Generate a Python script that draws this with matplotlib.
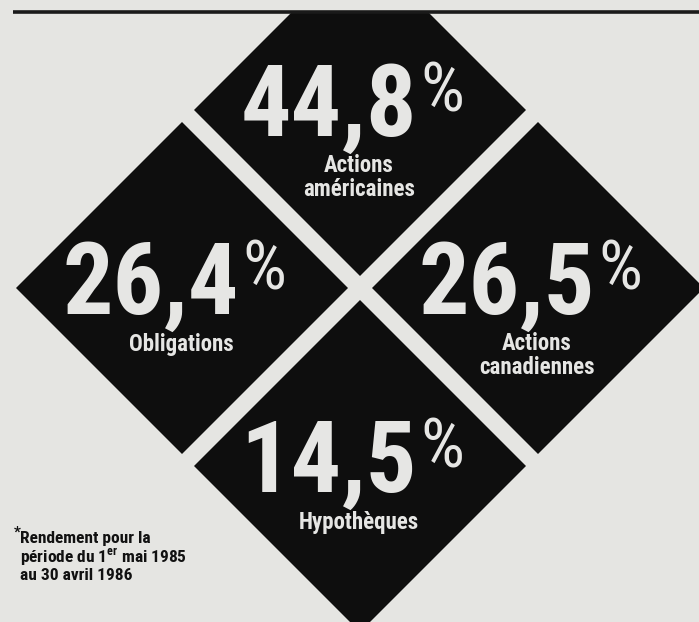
import matplotlib
matplotlib.use('Agg')
import matplotlib.pyplot as plt
from matplotlib.patches import Polygon, Rectangle

# Rendement (%) par catégorie d'actif
values = [44.8, 26.4, 26.5, 14.5]
labels = ['Actions\naméricaines', 'Obligations', 'Actions\ncanadiennes', 'Hypothèques']
note_lines = ['Rendement pour la',
              'période du 1$^{\\mathregular{er}}$ mai 1985',
              'au 30 avril 1986']

# where each diamond sits in the big one: top, left, right, bottom
slots = [(0, -1), (-1, 0), (1, 0), (0, 1)]

FONT = ['Roboto Condensed', 'DejaVu Sans']

BG = '#e5e5e2'
INK = '#0e0e0e'
LIGHT = '#e6e6e4'

W, H = 699, 622
fig = plt.figure(figsize=(W / 100, H / 100), dpi=100, facecolor=BG)
ax = fig.add_axes([0, 0, 1, 1])
ax.set_xlim(0, W)
ax.set_ylim(H, 0)
ax.axis('off')
ax.set_facecolor(BG)

cx, cy = 360, 288      # centre of the big diamond
step = 178             # centre-to-centre offset of the small diamonds
half = 166             # half diagonal of a small diamond
line_y = 12

clip = Rectangle((0, line_y), W, H, transform=ax.transData)

for (sx, sy), val, lab in zip(slots, values, labels):
    x0 = cx + sx * step
    y0 = cy + sy * step
    pts = [(x0, y0 - half), (x0 + half, y0), (x0, y0 + half), (x0 - half, y0)]
    d = Polygon(pts, closed=True, facecolor=INK, edgecolor='none', zorder=1)
    ax.add_patch(d)
    d.set_clip_path(clip)

    num = ('%.1f' % val).replace('.', ',')
    ax.text(x0 + 57, y0 + 26, num, ha='right', va='baseline', color=LIGHT,
            fontsize=72, family=FONT, fontweight='bold', zorder=3)
    ax.text(x0 + 60, y0 + 2, '%', ha='left', va='baseline', color=LIGHT,
            fontsize=50, family=FONT, zorder=3)

    for i, part in enumerate(lab.split('\n')):
        ax.text(x0 - 1, y0 + 56 + i * 24, part, ha='center', va='center',
                color=LIGHT, fontsize=16.5, family=FONT, fontweight='bold',
                zorder=3)

# rule across the top
ax.plot([13, W], [line_y, line_y], color='#1a1a1a', lw=2.6,
        solid_capstyle='butt', zorder=4)

# footnote
ax.text(14, 533, '*', ha='left', va='center', fontsize=11, color='#111111',
        family=FONT, fontweight='bold')
for i, txt in enumerate(note_lines):
    ax.text(20, 538 + i * 19, txt, ha='left', va='center', fontsize=12.5,
            color='#111111', family=FONT, fontweight='bold')

fig.savefig('out.png', dpi=100, facecolor=BG)
